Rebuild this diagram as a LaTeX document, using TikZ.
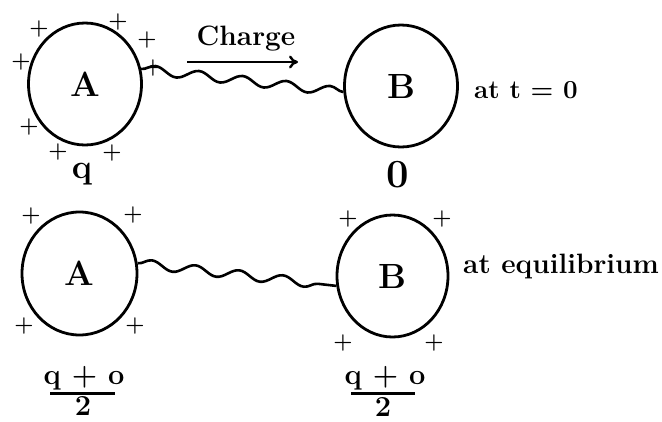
\documentclass[tikz,border=0pt]{standalone}
\usetikzlibrary{shapes.geometric,decorations.pathmorphing,arrows.meta}
\begin{document}
\begin{tikzpicture}[x=1pt,y=-1pt,
  ball/.style={draw,ellipse,line width=2.8pt,minimum width=113pt,minimum height=122pt,inner sep=0pt,font=\fontsize{35}{40}\selectfont\bfseries},
  pl/.style={inner sep=0pt,font=\fontsize{22}{24}\selectfont\bfseries},
  lab/.style={inner sep=0pt,font=\fontsize{28}{32}\selectfont\bfseries},
  frac/.style={inner sep=0pt,font=\fontsize{29}{32}\selectfont\bfseries},
  wire/.style={line width=2.6pt,decorate,decoration={snake,amplitude=4.5pt,segment length=44pt}}]
\useasboundingbox (0,0) rectangle (662,421);
% top row
\node[ball] (A1) at (85,84) {A};
\node[ball] (B1) at (401,86) {B};
\node[lab,anchor=base west,font=\fontsize{26}{30}\selectfont\bfseries] (t0) at (474,98) {at t = 0};
\node[lab,anchor=base] (ch) at (246,45) {Charge};
\coordinate (ar1) at (187,62);
\coordinate (ar2) at (298,62);
\draw[line width=2.4pt,-{To[length=9pt,width=13pt]}] (ar1) -- (ar2);
\draw[wire] (A1.15) -- (B1.186);
\node[inner sep=0pt,anchor=base,font=\fontsize{34}{38}\selectfont\bfseries] (q) at (82,178) {q};
\node[inner sep=0pt,anchor=base,font=\fontsize{40}{44}\selectfont\bfseries] (z) at (398,187) {0};
\node[pl] (p1) at (39,29) {+};
\node[pl] (p2) at (118,22) {+};
\node[pl] (p3) at (147,40) {+};
\node[pl] (p4) at (153,68) {+};
\node[pl] (p5) at (21,62) {+};
\node[pl] (p6) at (29,127) {+};
\node[pl] (p7) at (58,152) {+};
\node[pl] (p8) at (112,153) {+};
% bottom row
\node[ball,minimum width=115pt,minimum height=123pt] (A2) at (79.5,273.5) {A};
\node[ball,minimum width=111pt] (B2) at (392.5,276) {B};
\node[lab,anchor=base west] (eq) at (463,273) {at equilibrium};
\draw[wire] (A2.10) -- (B2.190);
\node[pl] (r1) at (31,216) {+};
\node[pl] (r2) at (133,215) {+};
\node[pl] (r3) at (24,326) {+};
\node[pl] (r4) at (135,326) {+};
\node[pl] (s1) at (348,219) {+};
\node[pl] (s2) at (442,219) {+};
\node[pl] (s3) at (343,343) {+};
\node[pl] (s4) at (434,343) {+};
% fractions
\node[frac,anchor=base] (na) at (84,384) {q + o};
\node[frac,anchor=base] (da) at (83,415) {2};
\coordinate (ba1) at (50,393);
\coordinate (ba2) at (115,393);
\draw[line width=3pt] (ba1) -- (ba2);
\node[frac,anchor=base] (nb) at (385,384) {q + o};
\node[frac,anchor=base] (db) at (383,416) {2};
\coordinate (bb1) at (351,393);
\coordinate (bb2) at (415,393);
\draw[line width=3pt] (bb1) -- (bb2);
\end{tikzpicture}
\end{document}
